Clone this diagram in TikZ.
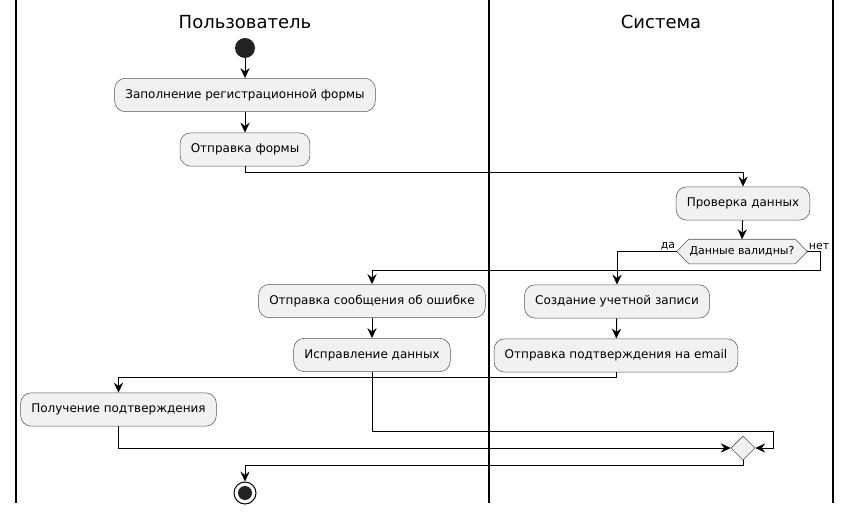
\documentclass[tikz,border=0pt]{standalone}
\usepackage{fontspec}
\setmainfont{DejaVu Sans}
\usetikzlibrary{arrows.meta,shapes.geometric}
\definecolor{actfill}{HTML}{F1F1F1}
\definecolor{actline}{HTML}{555555}
\definecolor{dotfill}{HTML}{222222}
\begin{document}
\begin{tikzpicture}[x=0.75pt,y=-0.75pt,
  act/.style={draw=actline, line width=0.4pt, fill=actfill, rounded corners=8pt,
    minimum height=25pt, inner xsep=8pt, inner ysep=0pt, font=\fontsize{9}{11}\selectfont},
  flow/.style={line width=0.75pt, -{Stealth[length=7.5pt,width=7pt,inset=2.6pt]}},
  lane/.style={line width=1.1pt},
  title/.style={font=\fontsize{13.5}{16}\selectfont},
  lbl/.style={font=\fontsize{8.2}{10}\selectfont, inner sep=1pt}]
  \useasboundingbox (0,0) rectangle (852,513);

  % swimlane borders and titles
  \draw[lane] (16,0) -- (16,503);
  \draw[lane] (489,0) -- (489,503);
  \draw[lane] (833,0) -- (833,503);
  \node[title] (tuser) at (245,22) {Пользователь};
  \node[title] (tsys) at (661,22) {Система};

  % start and end
  \node[circle, fill=dotfill, minimum size=15pt, inner sep=0pt] (start) at (245,48) {};
  \node[circle, draw=black, line width=0.75pt, fill=white, minimum size=16.5pt, inner sep=0pt] (stop) at (245,493) {};
  \node[circle, fill=dotfill, minimum size=10.5pt, inner sep=0pt] (stopdot) at (245,493) {};

  % activities
  \node[act] (fill) at (245,95) {Заполнение регистрационной формы};
  \node[act] (send) at (245,149.5) {Отправка формы};
  \node[act] (check) at (743,203.5) {Проверка данных};
  \node[act] (err) at (372,301) {Отправка сообщения об ошибке};
  \node[act] (fix) at (372,355) {Исправление данных};
  \node[act] (create) at (617,301.5) {Создание учетной записи};
  \node[act] (mail) at (616,355.5) {Отправка подтверждения на email};
  \node[act] (recv) at (118.5,409.5) {Получение подтверждения};

  % decision
  \node[font=\fontsize{8.2}{10}\selectfont, minimum width=97.5pt, minimum height=18pt, inner sep=0pt] (dec) at (742,251.5) {};
  \draw[draw=actline, line width=0.4pt, fill=actfill]
    (dec.west) -- ([xshift=9pt]dec.north west) -- ([xshift=-9pt]dec.north east)
    -- (dec.east) -- ([xshift=-9pt]dec.south east) -- ([xshift=9pt]dec.south west) -- cycle;
  \node[font=\fontsize{8.2}{10}\selectfont] (dectext) at (dec.center) {Данные валидны?};
  \node[lbl, anchor=south east] (yes) at (dec.west) {да};
  \node[lbl, anchor=south west] (no) at (dec.east) {нет};

  % merge
  \node[diamond, draw=actline, line width=0.4pt, fill=actfill, minimum width=18pt, minimum height=18pt, inner sep=0pt] (merge) at (743,448) {};

  \coordinate (loopR) at (773,431);

  % connectors
  \draw[flow] (start) -- (fill);
  \draw[flow] (fill) -- (send);
  \draw[flow] (send.south) -- ++(0,6) -| (check.north);
  \draw[flow] (check) -- (dec.north);
  \draw[flow] (dec.west) -| (create.north);
  \draw[flow] (dec.east) -- ++(13,0) -- ++(0,18.5) -| (err.north);
  \draw[flow] (err) -- (fix);
  \draw[flow] (create) -- (mail);
  \draw[flow] (mail.south) -- ++(0,5) -| (recv.north);
  \draw[flow] (fix.south) |- (loopR) |- (merge.east);
  \draw[flow] (recv.south) |- (merge.west);
  \draw[flow] (merge.south) -- ++(0,5) -| (stop.north);
\end{tikzpicture}
\end{document}
